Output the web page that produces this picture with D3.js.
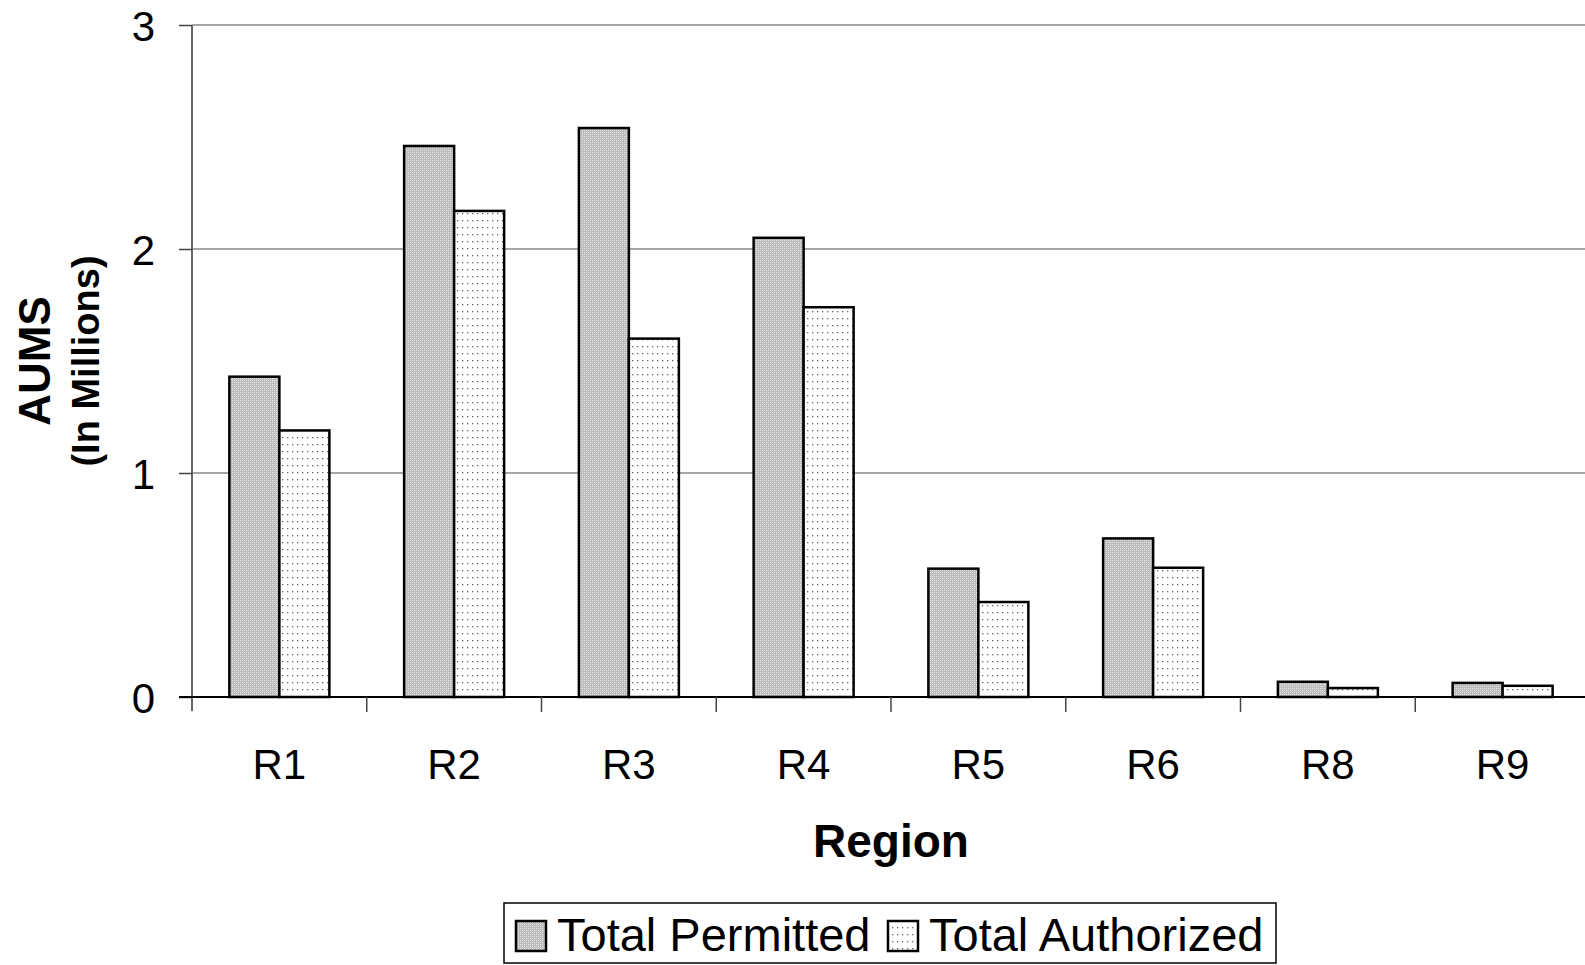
<!DOCTYPE html>
<html>
<head>
<meta charset="utf-8">
<script src="https://cdn.jsdelivr.net/npm/d3@7"></script>
<style>
body { margin: 0; background: #fff; }
text { font-family: "Liberation Sans", Arial, sans-serif; }
</style>
</head>
<body>
<svg width="1585" height="965"></svg>
<script>
// chart data
var regions = ["R1", "R2", "R3", "R4", "R5", "R6", "R8", "R9"];
var permitted = [1.43, 2.46, 2.54, 2.05, 0.573, 0.708, 0.068, 0.063];
var authorized = [1.19, 2.17, 1.60, 1.74, 0.424, 0.577, 0.040, 0.050];
var yTicks = [0, 1, 2, 3];
var seriesNames = ["Total Permitted", "Total Authorized"];

var svg = d3.select('svg');
// plot edges (window.top is reserved, so use other names); right edge runs past the window
var plotLeft = 192, plotRight = 1590, plotTop = 25, plotBottom = 697;

var defs = svg.append('defs');
// gray fine-check fill for permitted bars
var p1 = defs.append('pattern').attr('id', 'permFill')
    .attr('patternUnits', 'userSpaceOnUse').attr('width', 4).attr('height', 4);
p1.append('rect').attr('width', 4).attr('height', 4).attr('fill', '#bcbcbc');
p1.append('rect').attr('x', 0).attr('y', 0).attr('width', 1).attr('height', 1).attr('fill', '#ececec');
p1.append('rect').attr('x', 2).attr('y', 2).attr('width', 1).attr('height', 1).attr('fill', '#ececec');
p1.append('rect').attr('x', 2).attr('y', 0).attr('width', 1).attr('height', 1).attr('fill', '#dadada');
p1.append('rect').attr('x', 0).attr('y', 2).attr('width', 1).attr('height', 1).attr('fill', '#dadada');
// sparse dots for authorized bars
var p2 = defs.append('pattern').attr('id', 'authFill')
    .attr('patternUnits', 'userSpaceOnUse').attr('width', 5).attr('height', 7);
p2.append('rect').attr('width', 5).attr('height', 7).attr('fill', '#fff');
p2.append('rect').attr('x', 2).attr('y', 3).attr('width', 1.3).attr('height', 1.3).attr('fill', '#666');

var scaleX = d3.scaleBand().domain(regions).range([plotLeft, plotRight]);
var scaleY = d3.scaleLinear().domain([0, 3]).range([plotBottom, plotTop]);
var barW = 50;

// gridlines
svg.append('g').selectAll('line')
    .data(yTicks.filter(function(d){ return d > 0; }))
    .enter().append('line')
    .attr('x1', plotLeft).attr('x2', 1585)
    .attr('y1', function(d){ return scaleY(d); })
    .attr('y2', function(d){ return scaleY(d); })
    .attr('stroke', '#888').attr('stroke-width', 1.5);

// bars
var groups = svg.append('g').selectAll('g')
    .data(regions).enter().append('g');

groups.append('rect')
    .attr('x', function(d){ return scaleX(d) + scaleX.bandwidth() / 2 - barW; })
    .attr('y', function(d, i){ return scaleY(permitted[i]); })
    .attr('width', barW)
    .attr('height', function(d, i){ return plotBottom - scaleY(permitted[i]); })
    .attr('fill', 'url(#permFill)')
    .attr('stroke', '#000').attr('stroke-width', 2.5);

groups.append('rect')
    .attr('x', function(d){ return scaleX(d) + scaleX.bandwidth() / 2; })
    .attr('y', function(d, i){ return scaleY(authorized[i]); })
    .attr('width', barW)
    .attr('height', function(d, i){ return plotBottom - scaleY(authorized[i]); })
    .attr('fill', 'url(#authFill)')
    .attr('stroke', '#000').attr('stroke-width', 2.5);

// y axis
var yAxis = svg.append('g')
    .attr('transform', 'translate(' + plotLeft + ',0)')
    .call(d3.axisLeft(scaleY).tickValues(yTicks).tickFormat(d3.format('d')).tickSize(13).tickPadding(24));
yAxis.select('.domain').attr('stroke', '#666').attr('stroke-width', 2)
    .attr('d', 'M0,' + plotTop + 'V' + (plotBottom + 14));
yAxis.selectAll('.tick line').attr('stroke', '#444').attr('stroke-width', 1.5);
yAxis.selectAll('text').attr('font-size', 42).attr('fill', '#000').attr('dy', '0.36em')
    .style('font-family', '"Liberation Sans", Arial, sans-serif');

// x axis
var xAxis = svg.append('g')
    .attr('transform', 'translate(0,' + plotBottom + ')')
    .call(d3.axisBottom(scaleX).tickSize(0).tickPadding(0));
xAxis.select('.domain').attr('stroke', '#000').attr('stroke-width', 2)
    .attr('d', 'M' + (plotLeft - 13) + ',0H1585');
xAxis.selectAll('text').attr('font-size', 42).attr('fill', '#000')
    .attr('y', 82).attr('dy', null)
    .style('font-family', '"Liberation Sans", Arial, sans-serif');
// category separators
svg.append('g').selectAll('line')
    .data(regions.slice(1))
    .enter().append('line')
    .attr('x1', function(d){ return scaleX(d); })
    .attr('x2', function(d){ return scaleX(d); })
    .attr('y1', plotBottom).attr('y2', plotBottom + 15)
    .attr('stroke', '#444').attr('stroke-width', 1.5);

// axis titles
svg.append('text').text('Region')
    .attr('x', 891).attr('y', 857)
    .attr('text-anchor', 'middle').attr('font-size', 46).attr('font-weight', 'bold');

svg.append('text').text('AUMS')
    .attr('transform', 'translate(50,361)rotate(-90)')
    .attr('text-anchor', 'middle').attr('font-size', 44).attr('font-weight', 'bold');
svg.append('text').text('(In Millions)')
    .attr('transform', 'translate(99,361)rotate(-90)')
    .attr('text-anchor', 'middle').attr('font-size', 38).attr('font-weight', 'bold');

// legend
var legend = svg.append('g');
legend.append('rect').attr('x', 504).attr('y', 903).attr('width', 772).attr('height', 60)
    .attr('fill', '#fff').attr('stroke', '#000').attr('stroke-width', 1.5);
var legX = [516, 888];
var legFills = ['url(#permFill)', 'url(#authFill)'];
seriesNames.forEach(function(name, i){
    legend.append('rect').attr('x', legX[i]).attr('y', 921).attr('width', 30).attr('height', 30)
        .attr('fill', legFills[i]).attr('stroke', '#000').attr('stroke-width', 2.5);
    legend.append('text').text(name).attr('x', legX[i] + 41).attr('y', 951)
        .attr('font-size', 47);
});
</script>
</body>
</html>
